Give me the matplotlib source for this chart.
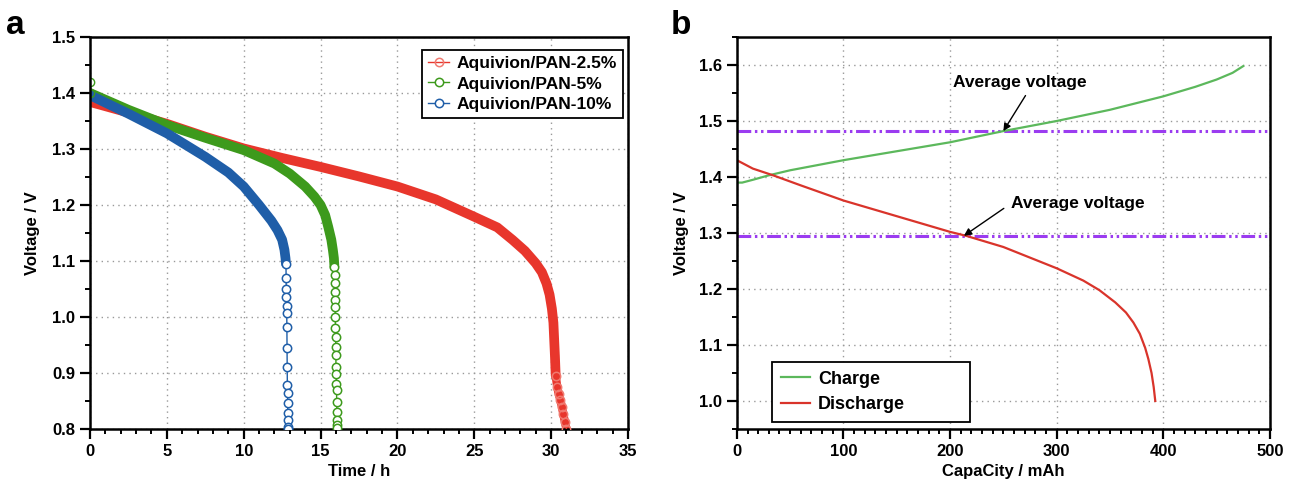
import matplotlib
matplotlib.use("Agg")
import matplotlib.pyplot as plt
from matplotlib.ticker import MultipleLocator

plt.rcParams["font.family"] = ["Liberation Sans", "DejaVu Sans"]
plt.rcParams["font.weight"] = "bold"

# panel a: discharge curves (time in h, voltage in V)
# dense part of each curve (markers overlap into a band) and the sparse tail
t_25_band = [0, 2.5, 5, 7.5, 10, 12.5, 15, 17.5, 20, 22.5, 25, 26.5, 27.5, 28.3, 29, 29.4, 29.7, 29.9,
             30.05, 30.15, 30.2, 30.25, 30.3]
v_25_band = [1.384, 1.365, 1.345, 1.322, 1.301, 1.284, 1.268, 1.251, 1.233, 1.21, 1.179, 1.16, 1.1375,
             1.118, 1.096, 1.08, 1.06, 1.04, 1.015, 0.99, 0.96, 0.93, 0.895]
t_25_tail = [30.3, 30.4, 30.5, 30.6, 30.7, 30.8, 30.9, 31.0]
v_25_tail = [0.895, 0.875, 0.862, 0.852, 0.84, 0.826, 0.812, 0.80]

t_5_band = [0, 2.5, 5, 7.5, 10, 12, 13, 14, 14.6, 15, 15.3, 15.5, 15.7, 15.8, 15.87, 15.9]
v_5_band = [1.40, 1.37, 1.343, 1.32, 1.298, 1.274, 1.256, 1.233, 1.215, 1.20, 1.182, 1.161, 1.138,
            1.12, 1.105, 1.09]
t_5_tail = [15.9, 15.92, 15.93, 15.94, 15.95, 15.95, 15.96, 15.97, 15.98, 15.99, 16.0, 16.0, 16.02,
            16.03, 16.04, 16.05, 16.06, 16.07, 16.07, 16.08]
v_5_tail = [1.09, 1.075, 1.06, 1.045, 1.03, 1.018, 1.0, 0.98, 0.965, 0.947, 0.932, 0.911, 0.898,
            0.881, 0.869, 0.849, 0.831, 0.816, 0.807, 0.802]

t_10_band = [0, 2.5, 5, 7.5, 9, 10, 11, 11.8, 12.2, 12.5, 12.65, 12.72, 12.75]
v_10_band = [1.396, 1.363, 1.328, 1.286, 1.258, 1.233, 1.20, 1.172, 1.155, 1.138, 1.12, 1.105, 1.095]
t_10_tail = [12.75, 12.76, 12.77, 12.78, 12.79, 12.8, 12.81, 12.82, 12.83, 12.84, 12.85, 12.86, 12.87,
             12.88, 12.89, 12.9]
v_10_tail = [1.095, 1.07, 1.05, 1.035, 1.02, 1.007, 0.983, 0.944, 0.911, 0.879, 0.864, 0.846, 0.828,
             0.816, 0.804, 0.80]

labels_a = ["Aquivion/PAN-2.5%", "Aquivion/PAN-5%", "Aquivion/PAN-10%"]

# panel b: charge / discharge vs capacity (mAh)
cap_charge = [0, 5, 15, 30, 50, 75, 100, 150, 200, 250, 300, 350, 400, 430, 450, 465, 475]
v_charge = [1.39, 1.39, 1.395, 1.403, 1.412, 1.421, 1.43, 1.446, 1.462, 1.482, 1.50, 1.52, 1.544,
            1.561, 1.574, 1.586, 1.598]
cap_dis = [0, 15, 34, 60, 100, 150, 200, 215, 250, 300, 325, 340, 355, 365, 372, 378, 383, 386, 389,
           391, 392.5]
v_dis = [1.43, 1.415, 1.403, 1.385, 1.358, 1.33, 1.302, 1.295, 1.275, 1.237, 1.215, 1.198, 1.176,
         1.158, 1.14, 1.12, 1.095, 1.075, 1.05, 1.025, 1.0]
avg_charge = 1.482
avg_dis = 1.295

fig = plt.figure(figsize=(12.95, 4.9), dpi=100)
ax1 = fig.add_axes([0.0695, 0.1245, 0.4154, 0.80])
ax2 = fig.add_axes([0.569, 0.1245, 0.4116, 0.80])

colors_a = ["#e8362c", "#3d9a1c", "#1f5ea8"]
bands = [(t_25_band, v_25_band), (t_5_band, v_5_band), (t_10_band, v_10_band)]
tails = [(t_25_tail, v_25_tail), (t_5_tail, v_5_tail), (t_10_tail, v_10_tail)]
for i, ((tb, vb), (tt, vt), c, lab) in enumerate(zip(bands, tails, colors_a, labels_a)):
    ax1.plot(tb, vb, color=c, lw=7, solid_capstyle="round", solid_joinstyle="round", zorder=2)
    if i == 0:
        # the 2.5 % tail is still dense enough to look like a band
        ax1.plot(tt, vt, color=c, lw=6, solid_capstyle="round", solid_joinstyle="round", zorder=2)
    ax1.plot(tt, vt, color=c, lw=1.0, marker="o", ms=6, mfc="white" if i else "none",
             mec=c if i else "#f07a70", mew=1.1, zorder=3, label=lab)
# first readings sit a little above the band at t = 0
ax1.plot([0, 0], [1.42, 1.40], ls="none", marker="o", ms=6, mfc="none", mec=colors_a[1], mew=1.0)

ax1.set_xlim(0, 35)
ax1.set_ylim(0.8, 1.5)
ax1.xaxis.set_major_locator(MultipleLocator(5))
ax1.xaxis.set_minor_locator(MultipleLocator(1))
ax1.yaxis.set_major_locator(MultipleLocator(0.1))
ax1.yaxis.set_minor_locator(MultipleLocator(0.05))
ax1.set_xlabel("Time / h", fontsize=12, fontweight="bold")
ax1.set_ylabel("Voltage / V", fontsize=12, fontweight="bold", labelpad=9)
leg1 = ax1.legend(loc="upper right", fontsize=12.5, fancybox=False, edgecolor="black",
                  handlelength=1.2, handletextpad=0.4, borderpad=0.35, labelspacing=0.3,
                  borderaxespad=0, bbox_to_anchor=(0.99, 0.967), framealpha=1)
leg1.get_frame().set_linewidth(1.3)

ax2.plot(cap_charge, v_charge, color="#5cb85c", lw=1.6, label="Charge")
ax2.plot(cap_dis, v_dis, color="#d9342b", lw=1.6, label="Discharge")
for yv in [avg_charge, avg_dis]:
    ax2.axhline(yv, color="#9b3cf0", lw=2.2, ls=(0, (4.5, 1.2, 0.8, 1.2, 0.8, 1.2)), zorder=1)

ax2.annotate("Average voltage", xy=(250, avg_charge), xytext=(265, 1.568),
             ha="center", va="center", fontsize=12.5, fontweight="bold",
             arrowprops=dict(arrowstyle="-|>", color="black", lw=1.0, shrinkA=2, shrinkB=0,
                             mutation_scale=11, relpos=(0.57, 0.0)))
ax2.annotate("Average voltage", xy=(213, avg_dis), xytext=(320, 1.353),
             ha="center", va="center", fontsize=12.5, fontweight="bold",
             arrowprops=dict(arrowstyle="-|>", color="black", lw=1.0, shrinkA=4, shrinkB=0,
                             mutation_scale=11, relpos=(0.0, 0.5)))

ax2.set_xlim(0, 500)
ax2.set_ylim(0.95, 1.65)
ax2.xaxis.set_major_locator(MultipleLocator(100))
ax2.xaxis.set_minor_locator(MultipleLocator(10))
ax2.yaxis.set_major_locator(MultipleLocator(0.1))
ax2.yaxis.set_minor_locator(MultipleLocator(0.05))
ax2.set_xlabel("CapaCity / mAh", fontsize=12, fontweight="bold")
ax2.set_ylabel("Voltage / V", fontsize=12, fontweight="bold", labelpad=7)
leg2 = ax2.legend(loc="lower left", mode="expand", fontsize=13, fancybox=False, edgecolor="black",
                  handlelength=1.6, handletextpad=0.45, borderpad=0.5, labelspacing=0.45,
                  borderaxespad=0, bbox_to_anchor=(0.066, 0.018, 0.371, 0.17), framealpha=1)
leg2.get_frame().set_linewidth(1.3)

for ax in (ax1, ax2):
    ax.grid(True, which="major", color="#999999", ls=(0, (1, 3)), lw=1.0)
    for s in ax.spines.values():
        s.set_linewidth(1.8)
    ax.tick_params(which="major", length=7, width=1.6, labelsize=12, direction="out")
    ax.tick_params(which="minor", length=3.5, width=1.4, direction="out")
    for lab in ax.get_xticklabels() + ax.get_yticklabels():
        lab.set_fontweight("bold")

fig.text(0.005, 0.93, "a", fontsize=24, fontweight="bold")
fig.text(0.518, 0.93, "b", fontsize=24, fontweight="bold")

fig.savefig("out.png", dpi=100)
